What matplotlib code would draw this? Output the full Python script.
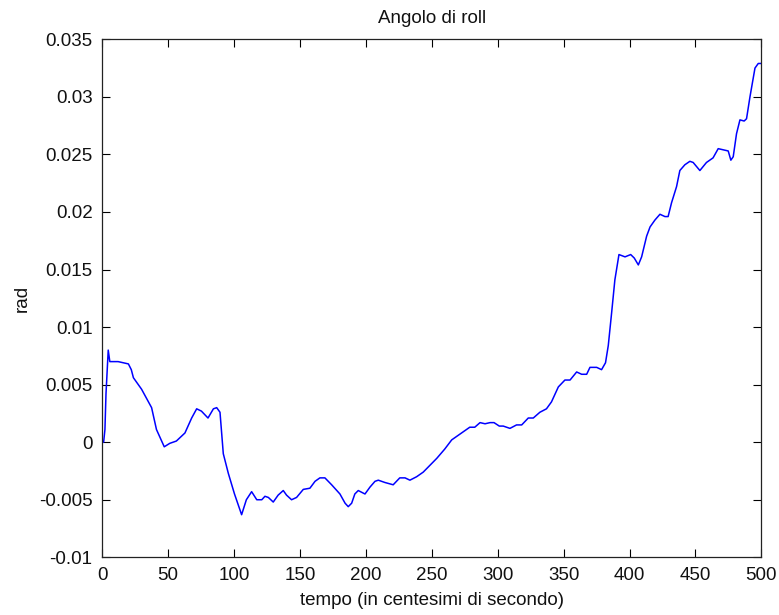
import matplotlib
matplotlib.use("Agg")
import matplotlib.pyplot as plt

# Roll angle samples: time in hundredths of a second, angle in radians
tempo = [0, 1, 2.0, 2.8, 4.0, 4.5, 5.7, 7.0, 12.0, 19.8, 22.0, 23.6, 29.8, 37.4,
         41.1, 47.0, 51.2, 56.2, 62.7, 67.8, 71.6, 75.2, 80.2, 84.3, 86.8, 89.3,
         91.8, 95.6, 100.3, 105.7, 109.3, 113.3, 117.2, 121.0, 123.4, 126.0,
         129.7, 133.4, 137.3, 139.8, 143.6, 147.4, 152.5, 157.5, 161.4, 165.1,
         168.9, 174.0, 180.3, 184.2, 186.6, 189.2, 191.6, 194.2, 199.3, 203.1,
         206.9, 209.4, 214.4, 220.7, 225.7, 229.7, 233.4, 238.5, 243.5, 248.6,
         253.8, 259.8, 265.1, 270.1, 275.1, 278.8, 282.6, 286.6, 290.4, 294.2,
         297.2, 301.2, 304.2, 309.3, 314.3, 318.2, 323.2, 327.0, 332.0, 337.0,
         340.8, 346.0, 351.0, 354.9, 359.9, 363.7, 367.5, 370.0, 375.1, 378.8,
         381.8, 383.9, 386.4, 388.9, 390.2, 392.0, 396.6, 400.9, 403.6, 406.7,
         409.2, 413.0, 415.6, 419.3, 423.1, 426.9, 429.3, 431.9, 435.7, 438.2,
         442.0, 445.8, 448.3, 453.4, 458.4, 463.4, 467.3, 471.1, 474.9, 476.9,
         478.7, 481.2, 483.8, 487.0, 488.8, 491.4, 493.2, 495.2, 497.7, 500.0]
roll = [0.0, 0.0, 0.0011, 0.0042, 0.0070, 0.0080, 0.0070, 0.0070, 0.0070,
        0.0068, 0.0063, 0.0056, 0.0046, 0.0030, 0.0011, -0.0004, -0.0001,
        0.0001, 0.0008, 0.0021, 0.0029, 0.0027, 0.0021, 0.0029, 0.0030,
        0.0026, -0.0010, -0.0027, -0.0045, -0.0063, -0.0050, -0.0043, -0.0050,
        -0.0050, -0.0047, -0.0048, -0.0052, -0.0046, -0.0042, -0.0046, -0.0050,
        -0.0048, -0.0041, -0.0040, -0.0034, -0.0031, -0.0031, -0.0037, -0.0045,
        -0.0053, -0.0056, -0.0053, -0.0045, -0.0042, -0.0045, -0.0039, -0.0034,
        -0.0033, -0.0035, -0.0037, -0.0031, -0.0031, -0.0033, -0.0030, -0.0026,
        -0.0020, -0.0014, -0.0006, 0.0002, 0.0006, 0.0010, 0.0013, 0.0013,
        0.0017, 0.0016, 0.0017, 0.0017, 0.0014, 0.0014, 0.0012, 0.0015, 0.0015,
        0.0021, 0.0021, 0.0026, 0.0029, 0.0035, 0.0048, 0.0054, 0.0054, 0.0061,
        0.0059, 0.0059, 0.0065, 0.0065, 0.0063, 0.0069, 0.0084, 0.0112, 0.0141,
        0.0150, 0.0163, 0.0161, 0.0163, 0.0160, 0.0154, 0.0161, 0.0179, 0.0187,
        0.0193, 0.0198, 0.0196, 0.0196, 0.0208, 0.0222, 0.0236, 0.0241, 0.0244,
        0.0243, 0.0236, 0.0243, 0.0247, 0.0255, 0.0254, 0.0253, 0.0245, 0.0248,
        0.0268, 0.0280, 0.0279, 0.0281, 0.0300, 0.0312, 0.0325, 0.0329, 0.0329]

xticks = [0, 50, 100, 150, 200, 250, 300, 350, 400, 450, 500]
yticks = [-0.01, -0.005, 0, 0.005, 0.01, 0.015, 0.02, 0.025, 0.03, 0.035]
ytick_labels = ["-0.01", "-0.005", "0", "0.005", "0.01", "0.015", "0.02",
                "0.025", "0.03", "0.035"]

plt.rcParams["font.family"] = ["Liberation Sans", "DejaVu Sans"]
plt.rcParams["font.size"] = 13.5

W, H = 779, 615
fig = plt.figure(figsize=(W / 100, H / 100), dpi=100)
left, right, top, bottom = 102.3, 761.3, 39.3, 557.3
ax = fig.add_axes([left / W, 1 - bottom / H, (right - left) / W, (bottom - top) / H])

ax.plot(tempo, roll, color=(0, 0, 1), linewidth=1.1)

ax.set_xlim(0, 500)
ax.set_ylim(-0.01, 0.035)
ax.set_xticks(xticks)
ax.set_xticklabels([str(t) for t in xticks])
ax.set_yticks(yticks)
ax.set_yticklabels(ytick_labels)

ax.tick_params(direction="in", length=5.5, width=0.8, top=True, right=True,
               colors="black", labelcolor="#111111")
ax.tick_params(axis="y", pad=7)
ax.tick_params(axis="x", pad=7)
for s in ax.spines.values():
    s.set_linewidth(0.9)
    s.set_color("#222222")

ax.set_title("Angolo di roll", fontsize=13.5, pad=11.5, color="#111111")
ax.set_xlabel("tempo (in centesimi di secondo)", labelpad=6, color="#111111")
ax.set_ylabel("rad", labelpad=6, color="#111111")

fig.savefig("out.png", dpi=100)
